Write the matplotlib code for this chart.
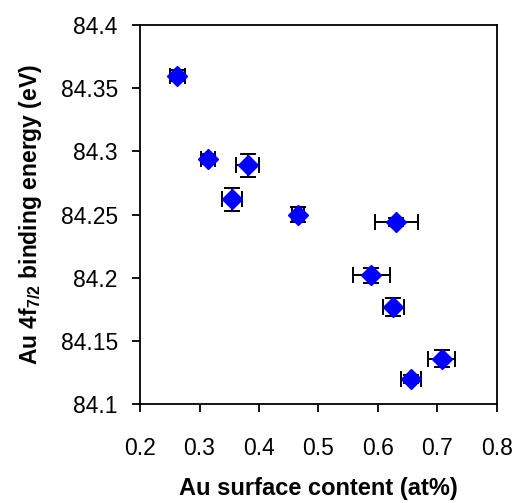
import matplotlib
matplotlib.use("Agg")
import matplotlib.pyplot as plt

plt.rcParams["font.family"] = ["Liberation Sans", "DejaVu Sans"]
plt.rcParams["mathtext.fontset"] = "custom"
plt.rcParams["mathtext.rm"] = "Liberation Sans:bold"
plt.rcParams["mathtext.it"] = "Liberation Sans:bold"
plt.rcParams["mathtext.bf"] = "Liberation Sans:bold"

# Au surface content (at%) vs Au 4f7/2 binding energy (eV)
au_content = [0.263, 0.314, 0.381, 0.354, 0.465, 0.631, 0.589, 0.626, 0.656, 0.707]
au_content_err = [0.012, 0.012, 0.019, 0.017, 0.010, 0.036, 0.031, 0.017, 0.017, 0.023]
binding_energy = [84.360, 84.294, 84.289, 84.262, 84.250, 84.244, 84.202, 84.177, 84.120, 84.136]
binding_energy_err = [0.004, 0.004, 0.009, 0.009, 0.006, 0.003, 0.006, 0.007, 0.003, 0.007]

x_ticks = [0.2, 0.3, 0.4, 0.5, 0.6, 0.7, 0.8]
y_ticks = [84.1, 84.15, 84.2, 84.25, 84.3, 84.35, 84.4]
y_tick_labels = ["84.1", "84.15", "84.2", "84.25", "84.3", "84.35", "84.4"]

fig = plt.figure(figsize=(5.17, 5.03), dpi=100)
ax = fig.add_axes([0.2708, 0.1968, 0.6905, 0.7535])

ax.errorbar(au_content, binding_energy, xerr=au_content_err, yerr=binding_energy_err,
            fmt="D", color="#0000ff", markersize=10.5,
            ecolor="black", elinewidth=1.4, capsize=5.5, capthick=1.4, zorder=3)

ax.set_xlim(0.2, 0.8)
ax.set_ylim(84.1, 84.4)
ax.set_xticks(x_ticks)
ax.set_xticklabels([f"{t:g}" for t in x_ticks])
ax.set_yticks(y_ticks)
ax.set_yticklabels(y_tick_labels)

for sp in ax.spines.values():
    sp.set_linewidth(1.3)
ax.tick_params(direction="out", length=6, width=1.3, labelsize=16.5)
ax.tick_params(axis="x", pad=18)
ax.tick_params(axis="y", pad=10)

ax.set_xlabel("Au surface content (at%)", fontsize=17, fontweight="bold", labelpad=12)
ax.set_ylabel(r"Au 4f$_{7/2}$ binding energy (eV)", fontsize=16.5, fontweight="bold", labelpad=12)

fig.savefig("out.png", dpi=100)
